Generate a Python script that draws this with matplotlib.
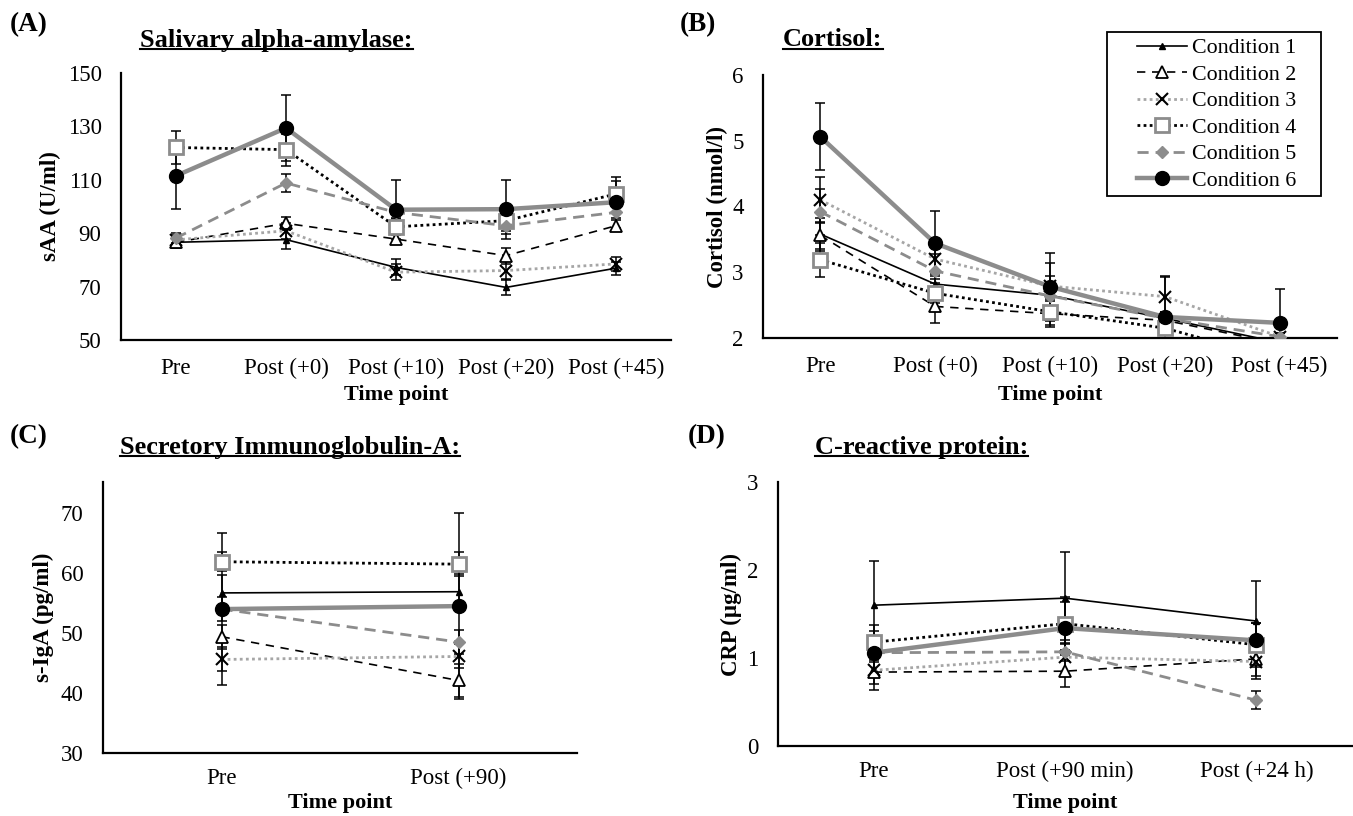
import matplotlib
matplotlib.use("Agg")
import matplotlib.pyplot as plt
from matplotlib.lines import Line2D
from matplotlib.patches import Rectangle

plt.rcParams["font.family"] = ["Liberation Serif", "DejaVu Serif"]

W, H = 1353, 816

conditions = ["Condition 1", "Condition 2", "Condition 3",
              "Condition 4", "Condition 5", "Condition 6"]

# (A) salivary alpha-amylase
saa_times = ["Pre", "Post (+0)", "Post (+10)", "Post (+20)", "Post (+45)"]
saa_mean = [
    [86.6, 87.6, 77.2, 69.7, 76.9],
    [86.6, 93.7, 87.8, 81.6, 92.8],
    [87.5, 90.9, 75.4, 76.0, 78.5],
    [122.1, 121.3, 92.4, 94.7, 104.7],
    [88.2, 108.8, 97.8, 92.8, 97.8],
    [111.5, 129.4, 98.8, 99.0, 101.6],
]
saa_err = [
    [2.0, 3.5, 3.0, 3.0, 2.5],
    [2.0, 2.5, 2.0, 3.0, 2.0],
    [2.0, 3.0, 3.0, 3.5, 2.5],
    [6.0, 6.0, 3.0, 5.0, 5.0],
    [2.0, 3.5, 2.0, 2.0, 2.0],
    [12.5, 12.5, 11.0, 11.0, 9.5],
]

# (B) cortisol
cort_times = ["Pre", "Post (+0)", "Post (+10)", "Post (+20)", "Post (+45)"]
cort_mean = [
    [3.58, 2.82, 2.65, 2.30, 1.93],
    [3.56, 2.48, 2.37, 2.27, 1.91],
    [4.10, 3.20, 2.79, 2.63, 2.02],
    [3.19, 2.68, 2.40, 2.15, 1.67],
    [3.92, 3.02, 2.64, 2.30, 2.02],
    [5.06, 3.44, 2.78, 2.32, 2.23],
]
cort_err = [
    [0.25, 0.15, 0.20, 0.10, 0.10],
    [0.20, 0.25, 0.20, 0.10, 0.10],
    [0.35, 0.30, 0.35, 0.30, 0.05],
    [0.26, 0.15, 0.20, 0.10, 0.10],
    [0.35, 0.25, 0.30, 0.10, 0.05],
    [0.51, 0.49, 0.52, 0.63, 0.51],
]

# (C) s-IgA
siga_times = ["Pre", "Post (+90)"]
siga_mean = [
    [56.7, 56.9],
    [49.4, 42.1],
    [45.6, 46.1],
    [61.9, 61.5],
    [54.0, 48.5],
    [54.0, 54.5],
]
siga_err = [
    [3.0, 3.0],
    [2.0, 2.7],
    [2.0, 2.0],
    [1.6, 2.0],
    [2.0, 2.0],
    [12.7, 15.5],
]

# (D) CRP
crp_times = ["Pre", "Post (+90 min)", "Post (+24 h)"]
crp_mean = [
    [1.60, 1.68, 1.42],
    [0.84, 0.85, 0.99],
    [0.86, 1.01, 0.96],
    [1.18, 1.39, 1.15],
    [1.06, 1.07, 0.52],
    [1.06, 1.34, 1.20],
]
crp_err = [
    [0.50, 0.52, 0.46],
    [0.20, 0.18, 0.20],
    [0.15, 0.20, 0.20],
    [0.20, 0.30, 0.25],
    [0.10, 0.10, 0.10],
    [0.25, 0.30, 0.20],
]

GREY = "#8c8c8c"
LIGHT = "#a6a6a6"
styles = [
    dict(color="black", lw=1.2, ls="-", marker="^", ms=5, mfc="black", mec="black"),
    dict(color="black", lw=1.2, ls=(0, (5, 4)), marker="^", ms=8, mfc="white", mec="black", mew=1.3),
    dict(color=LIGHT, lw=2.0, ls=(0, (1, 1.2)), marker="x", ms=8, mfc="black", mec="black", mew=1.5),
    dict(color="black", lw=2.0, ls=(0, (1, 1.2)), marker="s", ms=10, mfc="white", mec=GREY, mew=2.0),
    dict(color=GREY, lw=2.0, ls=(0, (4, 2.5)), marker="D", ms=6.5, mfc=GREY, mec=GREY),
    dict(color=GREY, lw=3.2, ls="-", marker="o", ms=10, mfc="black", mec="black"),
]


def px_ax(fig, left, top, right, bottom):
    return fig.add_axes([left / W, 1 - bottom / H, (right - left) / W, (bottom - top) / H])


def underline_title(fig, x, y, text):
    t = fig.text(x / W, 1 - y / H, text, fontsize=19, fontweight="bold",
                 ha="left", va="center")
    fig.canvas.draw()
    bb = t.get_window_extent().transformed(fig.transFigure.inverted())
    uy = bb.y0 + 0.003
    fig.add_artist(Line2D([bb.x0, bb.x1], [uy, uy], color="black", lw=1.5,
                          transform=fig.transFigure))


def panel(ax, times, means, errs, ylim, yticks, ylabel, ylabel_x, xlabel_xy, xpad):
    x = list(range(len(times)))
    lines = []
    for m, e, st in zip(means, errs, styles):
        ax.errorbar(x, m, yerr=e, fmt="none", ecolor="black", elinewidth=1.1,
                    capsize=3.5, capthick=1.1, zorder=2)
        ln, = ax.plot(x, m, zorder=3, **st)
        lines.append(ln)
    ax.set_xlim(-0.5, len(times) - 0.5)
    ax.set_ylim(*ylim)
    ax.set_yticks(yticks)
    ax.set_xticks(x)
    ax.set_xticklabels(times)
    for s in ["top", "right"]:
        ax.spines[s].set_visible(False)
    for s in ["left", "bottom"]:
        ax.spines[s].set_linewidth(1.6)
    ax.tick_params(length=0, labelsize=16.5)
    ax.tick_params(axis="y", pad=14)
    ax.tick_params(axis="x", pad=xpad)
    ax.set_ylabel(ylabel, fontsize=16.5, fontweight="bold", va="center")
    pos = ax.get_position()
    ax.yaxis.set_label_coords(ylabel_x / W, pos.y0 + pos.height / 2,
                              transform=ax.figure.transFigure)
    ax.set_xlabel("Time point", fontsize=16, fontweight="bold", va="center")
    ax.xaxis.set_label_coords(xlabel_xy[0] / W, 1 - xlabel_xy[1] / H,
                              transform=ax.figure.transFigure)
    return lines


fig = plt.figure(figsize=(W / 100, H / 100), dpi=100)

axA = px_ax(fig, 121, 73, 671, 340)
panel(axA, saa_times, saa_mean, saa_err, (50, 150), range(50, 151, 20),
      "sAA (U/ml)", 50, (396, 395), 13)

axB = px_ax(fig, 763, 75, 1337, 338)
lines = panel(axB, cort_times, cort_mean, cort_err, (2, 6), range(2, 7),
              "Cortisol (nmol/l)", 717, (1050, 395), 13)

axC = px_ax(fig, 103, 482, 577, 753)
panel(axC, siga_times, siga_mean, siga_err, (30, 75.2), range(30, 71, 10),
      "s-IgA (pg/ml)", 43, (340, 803), 11)

axD = px_ax(fig, 778, 482, 1352, 746)
panel(axD, crp_times, crp_mean, crp_err, (0, 3), range(0, 4),
      "CRP (\u00b5g/ml)", 731, (1065, 803), 11)

# legend box (Excel style: wide left margin)
fig.add_artist(Rectangle((1107 / W, 1 - 196 / H), 214 / W, 164 / H,
                         transform=fig.transFigure, fill=False,
                         edgecolor="black", lw=1.3))
fig.legend(lines, conditions, loc="upper left",
           bbox_to_anchor=(1137 / W, 1 - 38 / H), fontsize=15.8,
           frameon=False, handlelength=2.27, labelspacing=0.28,
           borderpad=0, handletextpad=0.23, borderaxespad=0)

for lab, (x, y) in zip(["(A)", "(B)", "(C)", "(D)"],
                       [(10, 25), (680, 25), (10, 437), (688, 437)]):
    fig.text(x / W, 1 - y / H, lab, fontsize=19.5, fontweight="bold",
             ha="left", va="center")

underline_title(fig, 140, 40, "Salivary alpha-amylase:")
underline_title(fig, 783, 40, "Cortisol:")
underline_title(fig, 120, 447, "Secretory Immunoglobulin-A:")
underline_title(fig, 815, 447, "C-reactive protein:")

fig.savefig("out.png", dpi=100)
